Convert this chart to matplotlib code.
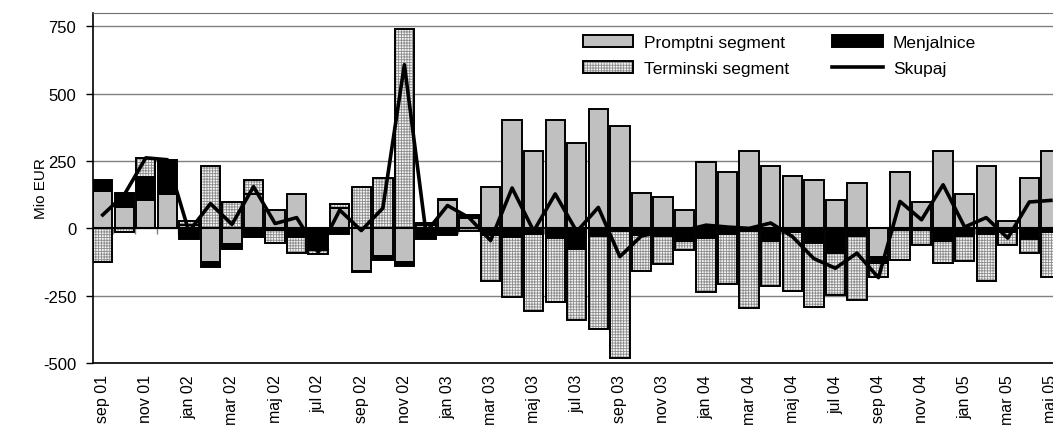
import matplotlib
matplotlib.use('Agg')
import matplotlib.pyplot as plt
import numpy as np
from matplotlib.patches import Patch
from matplotlib.lines import Line2D

plt.rcParams['font.family'] = ['Liberation Sans', 'DejaVu Sans']
plt.rcParams['hatch.linewidth'] = 0.6
plt.rcParams['axes.unicode_minus'] = False

months = ['sep 01', 'okt 01', 'nov 01', 'dec 01', 'jan 02', 'feb 02', 'mar 02', 'apr 02',
          'maj 02', 'jun 02', 'jul 02', 'avg 02', 'sep 02', 'okt 02', 'nov 02', 'dec 02',
          'jan 03', 'feb 03', 'mar 03', 'apr 03', 'maj 03', 'jun 03', 'jul 03', 'avg 03',
          'sep 03', 'okt 03', 'nov 03', 'dec 03', 'jan 04', 'feb 04', 'mar 04', 'apr 04',
          'maj 04', 'jun 04', 'jul 04', 'avg 04', 'sep 04', 'okt 04', 'nov 04', 'dec 04',
          'jan 05', 'feb 05', 'mar 05', 'apr 05', 'maj 05']

# Mio EUR
promptni = [140, 78, 107, 129, 12, -123, -59, 127, 68, 126, 0, 74, -160, -101, -123, 12,
            105, 40, 154, 403, 287, 403, 316, 443, 379, 133, 117, 68, 246, 209, 287, 230,
            195, 181, 105, 169, -108, 209, 98, 287, 126, 231, 27, 188, 287]
menjalnice = [40, 55, 84, 126, -38, -19, -17, -33, -5, -31, -80, -22, -3, -16, -16, -38,
              -25, 8, -25, -31, -20, -35, -76, -27, -10, -25, -27, -47, -37, -20, -10, -45,
              -15, -55, -92, -27, -21, -5, -5, -45, -30, -20, -15, -40, -12]
terminski = [-125, -15, 70, 0, 15, 231, 97, 54, -48, -59, -16, 17, 154, 188, 741, 8,
             5, -8, -170, -225, -288, -238, -266, -345, -473, -135, -105, -33, -201, -185, -286, -168,
             -216, -238, -157, -240, -53, -112, -57, -85, -90, -175, -47, -52, -170]
skupaj = [50, 125, 262, 255, -12, 92, 15, 155, 18, 40, -88, 68, -8, 75, 608, -15,
          85, 40, -45, 150, -10, 128, -12, 78, -105, -28, -12, -8, 12, 5, 0, 20,
          -30, -112, -148, -92, -183, 100, 32, 162, 5, 40, -36, 98, 104]

W, H = 1053, 435
fig = plt.figure(figsize=(W / 100, H / 100), dpi=100)
ax = fig.add_axes([93 / W, (H - 364) / H, 960 / W, 350 / H])

x = np.arange(len(months))
width = 0.9
pos_base = np.zeros(len(x))
neg_base = np.zeros(len(x))


def stack(vals):
    vals = np.asarray(vals, dtype=float)
    bottom = np.where(vals >= 0, pos_base, neg_base)
    pos_base[:] += np.where(vals >= 0, vals, 0)
    neg_base[:] += np.where(vals < 0, vals, 0)
    return vals, bottom


# category axis tick marks on the zero line
ax.vlines(x[:-1] + 0.5, -20, 0, color='#808080', lw=1, zorder=1)

v, b = stack(promptni)
ax.bar(x, v, width, bottom=b, color='#c0c0c0', edgecolor='black', lw=1.4, zorder=2)
v, b = stack(menjalnice)
ax.bar(x, v, width, bottom=b, color='black', edgecolor='black', lw=1.4, zorder=2)
v, b = stack(terminski)
ax.bar(x, v, width, bottom=b, color='#f4f4f4', edgecolor='#8c8c8c', lw=0,
       hatch='++++++', zorder=2)
ax.bar(x, v, width, bottom=b, fill=False, edgecolor='black', lw=1.4, zorder=2.1)

ax.axhline(0, color='black', lw=1.5, zorder=2.5)
ax.plot(x, skupaj, color='black', lw=2.6, zorder=3)

ax.set_xlim(-0.45, 44.1)
ax.set_ylim(-500, 800)
ax.set_yticks([-500, -250, 0, 250, 500, 750])
ax.yaxis.grid(True, color='#808080', lw=1)
ax.set_axisbelow(True)
ax.tick_params(axis='y', length=5, width=1, labelsize=12, pad=7)
ax.set_xticks(x[::2])
ax.set_xticklabels(months[::2], rotation=90, fontsize=11.5)
ax.tick_params(axis='x', length=0, pad=8)
ax.set_ylabel('Mio EUR', fontsize=11)
ax.yaxis.set_label_coords(-45 / 960, 0.5)

ax.spines['right'].set_visible(False)
ax.spines['top'].set_color('#707070')
ax.spines['left'].set_linewidth(1.2)
ax.spines['bottom'].set_linewidth(1.2)

h_p = Patch(facecolor='#c0c0c0', edgecolor='black', lw=1.4)
h_m = Patch(facecolor='black', edgecolor='black', lw=1.4)
h_t = (Patch(facecolor='#f4f4f4', edgecolor='#8c8c8c', lw=0, hatch='++++++'),
       Patch(fill=False, edgecolor='black', lw=1.4))
h_s = Line2D([], [], color='black', lw=2.6)
fig.legend([h_p, h_t, h_m, h_s],
           ['Promptni segment', 'Terminski segment', 'Menjalnice', 'Skupaj'],
           ncol=2, loc='upper left', bbox_to_anchor=(583 / W, 1 - 36 / H),
           frameon=False, fontsize=12.5, handlelength=2.9, handleheight=0.72,
           handletextpad=0.6, columnspacing=2.5, labelspacing=0.62,
           borderpad=0, borderaxespad=0)

fig.savefig('out.png', dpi=100)
